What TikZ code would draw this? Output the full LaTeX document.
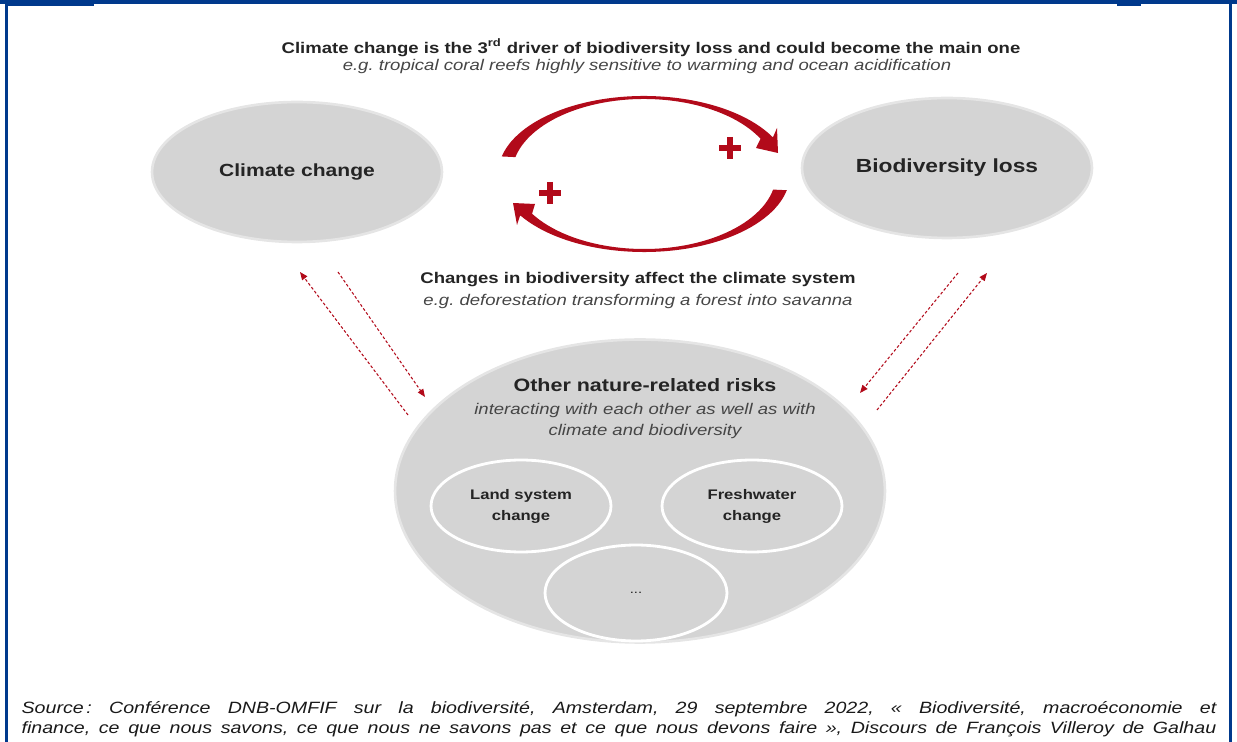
\documentclass[tikz,border=0pt]{standalone}
\usepackage{fontspec}
\setmainfont{Liberation Sans}[FakeStretch=1.2]
\usepackage{xcolor}
\usepackage{tikz}
\usetikzlibrary{calc,shapes.geometric,arrows.meta}

\definecolor{frameblue}{RGB}{0,57,140}
\definecolor{loopred}{RGB}{178,10,26}
\definecolor{bubblegray}{RGB}{212,212,212}
\definecolor{inkgray}{RGB}{36,36,36}

\begin{document}
\frenchspacing
\begin{tikzpicture}[x=0.02cm, y=-0.02cm,
    bubble/.style={ellipse, fill=bubblegray, draw=bubblegray!60, line width=1.5pt,
        text=inkgray, inner sep=0pt, font=\bfseries\fontsize{10}{12}\selectfont},
    subbubble/.style={bubble, draw=white, line width=1.6pt, align=center,
        font=\bfseries\fontsize{7.9}{12}\selectfont},
    headline/.style={text=inkgray, font=\bfseries\fontsize{8.8}{11}\selectfont},
    example/.style={text=inkgray!85, font=\itshape\fontsize{8.8}{12.5}\selectfont},
    link/.style={loopred, line width=0.6pt, dash pattern=on 1.6pt off 1.2pt,
        -{Triangle[length=4.5pt, width=3.6pt]}}]
    \useasboundingbox (0, 0) rectangle (1237, 742);

    % frame
    \fill [frameblue] (0, 0) rectangle (1237, 4);
    \fill [frameblue] (5, 0) rectangle (94, 6);
    \fill [frameblue] (1117, 0) rectangle (1141, 6);
    \fill [frameblue] (5, 0) rectangle (8, 742);
    \fill [frameblue] (1229, 0) rectangle (1232, 742);

    % titles
    \node [headline] (topline) at (651, 48) {Climate change is the 3\textsuperscript{rd} driver of biodiversity loss and could become the main one};
    \node [example] (topexample) at (647, 67) {e.g. tropical coral reefs highly sensitive to warming and ocean acidification};

    % bubbles
    \node [bubble, minimum width=5.8cm, minimum height=2.8cm] (climate) at (297, 172) {Climate change};
    \node [bubble, minimum width=5.8cm, minimum height=2.8cm, font=\bfseries\fontsize{10.8}{12}\selectfont] (biodiv) at (947, 168) {Biodiversity loss};
    \node [bubble, minimum width=9.8cm, minimum height=6.06cm] (risks) at (640, 491) {};
    \node [headline, font=\bfseries\fontsize{10.2}{12}\selectfont] (riskstitle) at (645, 385) {Other nature-related risks};
    \node [example, align=center] (risksexample) at (645, 421) {interacting with each other as well as with\\climate and biodiversity};
    \node [subbubble, minimum width=3.6cm, minimum height=1.84cm] (land) at (521, 506) {Land system\\change};
    \node [subbubble, minimum width=3.6cm, minimum height=1.84cm] (fresh) at (752, 506) {Freshwater\\change};
    \node [subbubble, minimum width=3.64cm, minimum height=1.92cm, font=\fontsize{7}{8}\selectfont] (more) at (636, 593) {...};

    % feedback loop
    \coordinate (ring) at (644, 174);
    \fill [loopred] ($(ring)+(193:146 and 78)$) arc [start angle=193, end angle=332, x radius=146, y radius=78]
        -- ($(ring)+(133, -46)$) -- ($(ring)+(134, -21)$) -- ($(ring)+(112, -26)$)
        -- ($(ring)+(332:132 and 75)$) arc [start angle=332, end angle=193, x radius=132, y radius=75] -- cycle;
    \fill [loopred] ($(ring)+(12:146 and 78)$) arc [start angle=12, end angle=148, x radius=146, y radius=78]
        -- ($(ring)+(-127, 51)$) -- ($(ring)+(-131, 29)$) -- ($(ring)+(-109, 30)$)
        -- ($(ring)+(148:132 and 75)$) arc [start angle=148, end angle=12, x radius=132, y radius=75] -- cycle;
    \coordinate (plustop) at (730, 148);
    \coordinate (plusbottom) at (550, 193);
    \draw [loopred, line width=3.8pt] ($(plustop)+(-11, 0)$) -- ($(plustop)+(11, 0)$);
    \draw [loopred, line width=3.8pt] ($(plustop)+(0, -11)$) -- ($(plustop)+(0, 11)$);
    \draw [loopred, line width=3.8pt] ($(plusbottom)+(-11, 0)$) -- ($(plusbottom)+(11, 0)$);
    \draw [loopred, line width=3.8pt] ($(plusbottom)+(0, -11)$) -- ($(plusbottom)+(0, 11)$);

    \node [headline] (backline) at (638, 280) {Changes in biodiversity affect the climate system};
    \node [example] (backexample) at (638, 302) {e.g. deforestation transforming a forest into savanna};

    % dashed links
    \coordinate (climatefoot) at (408, 415);
    \coordinate (climatetip) at (300, 272);
    \coordinate (climatetail) at (338, 272);
    \coordinate (riskstipleft) at (425, 397);
    \coordinate (biodivtail) at (958, 273);
    \coordinate (riskstipright) at (860, 393);
    \coordinate (biodivfoot) at (877, 410);
    \coordinate (biodivtip) at (987, 273);
    \draw [link] (climatefoot) -- (climatetip);
    \draw [link] (climatetail) -- (riskstipleft);
    \draw [link] (biodivtail) -- (riskstipright);
    \draw [link] (biodivfoot) -- (biodivtip);

    % source
    \node [font=\itshape\fontsize{9.3}{11.4}\selectfont, text=black!90, align=left, inner sep=0pt] (source) at (619, 719)
        {\makebox[23.9cm][s]{Source\,: Conférence DNB-OMFIF sur la biodiversité, Amsterdam, 29 septembre 2022, « Biodiversité, macroéconomie et}\\
         \makebox[23.9cm][s]{finance, ce que nous savons, ce que nous ne savons pas et ce que nous devons faire », Discours de François Villeroy de Galhau}};
\end{tikzpicture}
\end{document}
